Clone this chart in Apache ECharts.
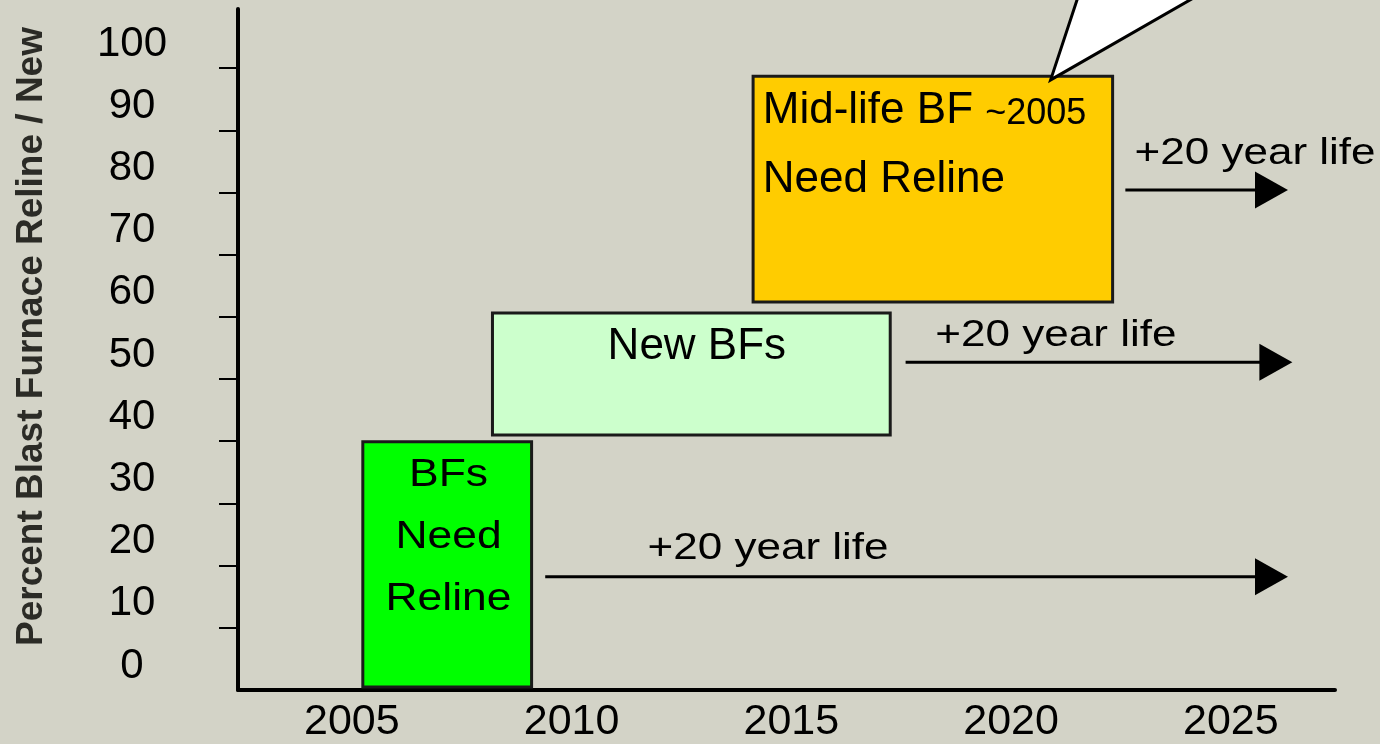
<!DOCTYPE html>
<html>
<head>
<meta charset="utf-8">
<title>Blast furnace reline / new</title>
<script src="https://cdn.jsdelivr.net/npm/echarts@6/dist/echarts.min.js"></script>
<style>
html, body { margin: 0; padding: 0; background: #d3d3c7; }
#chart { width: 1380px; height: 744px; }
</style>
</head>
<body>
<div id="chart"></div>
<script>
var FONT = "'Liberation Sans', Arial, sans-serif";

// axis labels
var years = [2005, 2010, 2015, 2020, 2025];
var yLabels = [0, 10, 20, 30, 40, 50, 60, 70, 80, 90, 100];
var yTicks = [10, 20, 30, 40, 50, 60, 70, 80, 90, 100];

// boxes (year span, percent span)
var boxText = ['BFs\nNeed\nReline', 'New BFs', 'Mid-life BF ~2005\nNeed Reline'];
var boxStart = [2005.25, 2008.2, 2014.13];
var boxEnd = [2009.09, 2017.25, 2022.31];
var boxLow = [0.5, 41, 62.4];
var boxHigh = [39.9, 60.6, 98.7];
var boxTextAt = [[2007.2, 24.6], [2012.85, 55.2], [2014.35, 87.5]];
var boxColors = ['#00ff00', '#ccffcc', '#ffcc00'];

// +20 year life arrows
var lifeFrom = [2009.4, 2017.6, 2022.6];
var lifeTo = [2026.3, 2026.4, 2026.3];
var lifeLevel = [18.2, 52.7, 80.4];
var lifeNoteAt = [[2014.47, 22.67], [2021.02, 56.9], [2025.55, 86.2]];
var lifeNote = '+20 year life';

// callout tail pointing at the mid-life box
var calloutTail = [[2020.9, 98.1], [2021.53, 111.6], [2024.23, 111.6]];

var boxData = boxText.map(function (t, i) {
	return [boxStart[i], boxEnd[i], boxLow[i], boxHigh[i], boxTextAt[i][0], boxTextAt[i][1]];
});
var arrowData = lifeFrom.map(function (f, i) {
	return [f, lifeTo[i], lifeLevel[i], lifeNoteAt[i][0], lifeNoteAt[i][1]];
});

function renderBox(params, api) {
	var i = params.dataIndex;
	var a = api.coord([api.value(0), api.value(3)]);
	var b = api.coord([api.value(1), api.value(2)]);
	var t = api.coord([api.value(4), api.value(5)]);
	var txt;
	if (i === 0) {
		txt = {
			type: 'text', x: t[0], y: t[1], scaleX: 1.14,
			style: { text: boxText[i], fontFamily: FONT, fontSize: 39, lineHeight: 62, fill: '#000', align: 'center', verticalAlign: 'middle' }
		};
	} else if (i === 1) {
		txt = {
			type: 'text', x: t[0], y: t[1],
			style: { text: boxText[i], fontFamily: FONT, fontSize: 44, fill: '#000', align: 'center', verticalAlign: 'middle' }
		};
	} else {
		txt = {
			type: 'text', x: t[0], y: t[1],
			style: {
				text: '{big|Mid-life BF }{small|~2005}\n{big|Need Reline}',
				fontFamily: FONT, fill: '#000', align: 'left', verticalAlign: 'middle',
				rich: {
					big: { fontFamily: FONT, fontSize: 44, lineHeight: 69, fill: '#000' },
					small: { fontFamily: FONT, fontSize: 36, lineHeight: 69, fill: '#000', padding: [5, 0, 0, 0] }
				}
			}
		};
	}
	return {
		type: 'group',
		children: [{
			type: 'rect',
			shape: { x: a[0], y: a[1], width: b[0] - a[0], height: b[1] - a[1] },
			style: { fill: boxColors[i], stroke: '#1a1a1a', lineWidth: 3 }
		}, txt]
	};
}

function renderArrow(params, api) {
	var s = api.coord([api.value(0), api.value(2)]);
	var e = api.coord([api.value(1), api.value(2)]);
	var n = api.coord([api.value(3), api.value(4)]);
	return {
		type: 'group',
		children: [{
			type: 'line',
			shape: { x1: s[0], y1: s[1], x2: e[0] - 28, y2: e[1] },
			style: { stroke: '#000', lineWidth: 3 }
		}, {
			type: 'polygon',
			shape: { points: [[e[0], e[1]], [e[0] - 33, e[1] - 18.5], [e[0] - 33, e[1] + 18.5]] },
			style: { fill: '#000' }
		}, {
			type: 'text', x: n[0], y: n[1], scaleX: 1.19,
			style: { text: lifeNote, fontFamily: FONT, fontSize: 37, fill: '#000', align: 'center', verticalAlign: 'middle' }
		}]
	};
}

function renderTail(params, api) {
	var pts = calloutTail.map(function (p) { return api.coord(p); });
	return {
		type: 'group',
		children: [{
			type: 'polygon',
			shape: { points: pts },
			style: { fill: '#ffffff' }
		}, {
			type: 'polyline',
			shape: { points: [pts[1], pts[0], pts[2]] },
			style: { stroke: '#000', lineWidth: 3, fill: null }
		}]
	};
}

var chart = echarts.init(document.getElementById('chart'));
var option = {
	backgroundColor: '#d3d3c7',
	animation: false,
	grid: { left: 238, right: 45, top: 9, bottom: 54 },
	xAxis: {
		type: 'value',
		min: 2002.41,
		max: 2027.37,
		splitLine: { show: false },
		axisTick: { show: false },
		axisLine: { lineStyle: { color: '#000', width: 4 } },
		axisLabel: {
			customValues: years,
			formatter: function (v) { return String(v); },
			fontFamily: FONT,
			fontSize: 43,
			color: '#000',
			margin: 11
		}
	},
	yAxis: {
		type: 'value',
		min: 0,
		max: 109.5,
		name: 'Percent Blast Furnace Reline / New',
		nameLocation: 'middle',
		nameRotate: 90,
		nameGap: 188,
		nameTextStyle: {
			fontFamily: FONT,
			fontSize: 37,
			fontWeight: 'bold',
			color: '#2b2b26',
			padding: [0, 0, 0, 26]
		},
		splitLine: { show: false },
		axisLine: { show: true, lineStyle: { color: '#000', width: 4 } },
		axisTick: {
			show: true,
			customValues: yTicks,
			length: 19,
			lineStyle: { color: '#000', width: 2 }
		},
		axisLabel: {
			customValues: yLabels,
			fontFamily: FONT,
			fontSize: 42,
			color: '#000',
			align: 'center',
			verticalAlign: 'bottom',
			lineHeight: 48,
			margin: 106
		}
	},
	series: [{
		type: 'custom',
		name: 'boxes',
		renderItem: renderBox,
		encode: { x: [0, 1], y: [2, 3] },
		data: boxData,
		z: 2
	}, {
		type: 'custom',
		name: 'arrows',
		renderItem: renderArrow,
		encode: { x: [0, 1], y: 2 },
		data: arrowData,
		z: 3
	}, {
		type: 'custom',
		name: 'callout',
		renderItem: renderTail,
		clip: false,
		data: [[calloutTail[0][0], calloutTail[0][1]]],
		z: 4
	}]
};
chart.setOption(option);
</script>
</body>
</html>
